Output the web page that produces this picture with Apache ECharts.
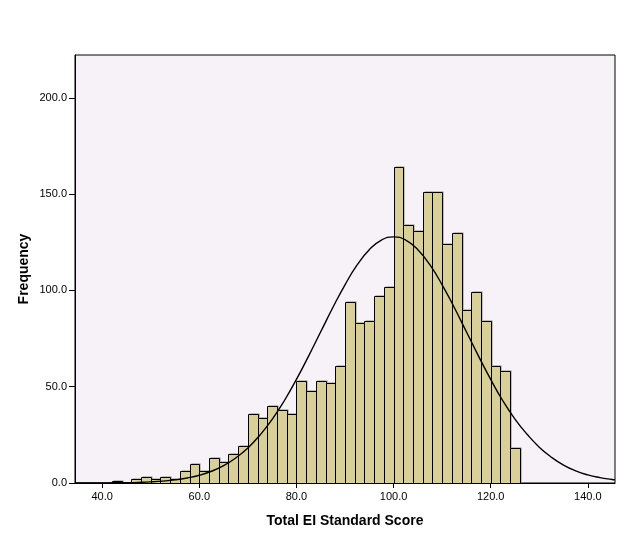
<!DOCTYPE html>
<html><head><meta charset="utf-8">
<script src="https://cdn.jsdelivr.net/npm/echarts@6/dist/echarts.min.js"></script>
<style>html,body{margin:0;padding:0;background:#fff}#c{width:629px;height:544px}</style>
</head><body><div id="c"></div>
<script>
// Histogram bins (lower edges), bin width and frequencies
const binStarts = [40,42,44,46,48,50,52,54,56,58,60,62,64,66,68,70,72,74,76,78,80,82,84,86,88,90,92,94,96,98,100,102,104,106,108,110,112,114,116,118,120,122,124];
const binWidth = 2;
const counts = [0,1,0,2,3,2,3,2,6,10,6,13,11,15,19,36,34,40,38,36,53,48,53,52,61,94,83,84,97,102,164,134,131,151,151,124,130,90,99,84,61,58,18];
// Normal curve points
const curveX = [34.4,37.5,40,42.5,45,47.5,50,52.5,55,57.5,60,62.5,65,67.5,70,72.5,75,77.5,80,82.5,85,87.5,90,92.5,95,97.5,100,102.5,105,107.5,110,112.5,115,117.5,120,122.5,125,127.5,130,132.5,135,137.5,140,142.5,145,145.6];
const curveY = [0.02,0.03,0.05,0.1,0.18,0.33,0.57,0.97,1.6,2.6,4.0,6.1,9.0,13.0,18.2,24.9,33.0,42.7,53.8,65.9,78.5,91.1,102.9,113.2,121.1,126.1,127.8,126.1,121.1,113.2,102.9,91.1,78.5,65.9,53.8,42.7,33.2,25.3,18.6,13.4,9.3,6.3,4.2,2.8,1.8,1.6];
const xTicks = [40,60,80,100,120,140];
const yTicks = [0,50,100,150,200];
const xTitle = 'Total EI Standard Score';
const yTitle = 'Frequency';

const chart = echarts.init(document.getElementById('c'), null, {renderer:'canvas'});
const font = "'Liberation Sans', Arial, sans-serif";
const barData = binStarts.map((s,i)=>[s, s+binWidth, counts[i]]);
chart.setOption({
  backgroundColor:'#ffffff',
  animation:false,
  grid:{left:75, top:55, right:14, bottom:61, show:true, backgroundColor:'#f6f2f7', borderColor:'#000', borderWidth:1},
  xAxis:{type:'value', min:34.4, max:145.6,
    name:xTitle, nameLocation:'middle', nameGap:31, nameMoveOverlap:false,
    nameTextStyle:{fontFamily:font, fontSize:14, fontWeight:'bold', color:'#000'},
    axisLine:{show:true, onZero:false, lineStyle:{color:'#000', width:1}},
    axisTick:{show:true, length:5, customValues:xTicks, lineStyle:{color:'#000'}},
    axisLabel:{customValues:xTicks, margin:8, fontFamily:font, fontSize:11, color:'#000', formatter:v=>v.toFixed(1)},
    splitLine:{show:false}},
  yAxis:{type:'value', min:0, max:222.2,
    name:yTitle, nameLocation:'middle', nameGap:44, nameRotate:90, nameMoveOverlap:false,
    nameTextStyle:{fontFamily:font, fontSize:14, fontWeight:'bold', color:'#000'},
    axisLine:{show:true, lineStyle:{color:'#000', width:1}},
    axisTick:{show:true, length:6, customValues:yTicks, lineStyle:{color:'#000'}},
    axisLabel:{customValues:yTicks, margin:8, fontFamily:font, fontSize:11, color:'#000', formatter:v=>v.toFixed(1)},
    splitLine:{show:false}},
  series:[
    {type:'custom', data:barData, clip:true, encode:{x:[0,1], y:2},
     renderItem:function(params, api){
       const v = api.value(2);
       if(!v) return null;
       const p0 = api.coord([api.value(0), v]);
       const p1 = api.coord([api.value(1), 0]);
       const x = Math.round(p0[0]) + 0.5, y = Math.round(p0[1]) + 0.5;
       const w = Math.round(p1[0]) - Math.round(p0[0]);
       const h = Math.round(p1[1]) - Math.round(p0[1]);
       return {type:'group', children:[
         {type:'rect', shape:{x:x+1, y:y-1, width:w, height:h+1}, style:{fill:'#8c8a7c'}},
         {type:'rect', shape:{x:x, y:y, width:w, height:h}, style:{fill:'#d8d098', stroke:'#000', lineWidth:1}}
       ]};
     }},
    {type:'line', data:curveX.map((x,i)=>[x, curveY[i]]), smooth:true, showSymbol:false, symbol:'none',
     lineStyle:{color:'#000', width:1.4}, z:5}
  ]
});
</script>
</body></html>
